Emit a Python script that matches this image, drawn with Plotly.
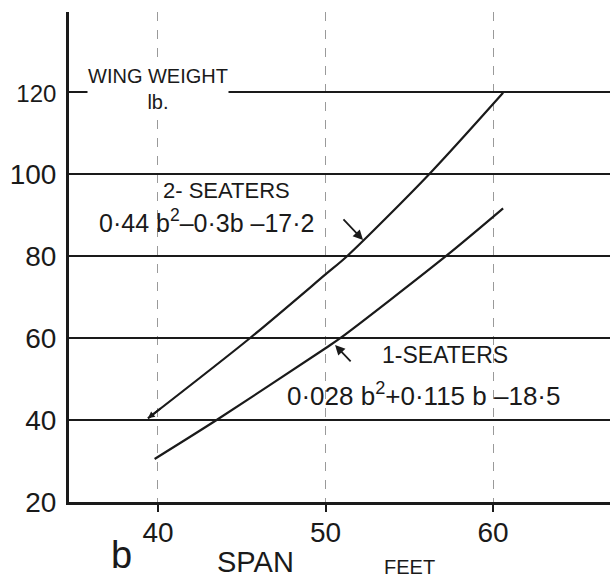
import plotly.graph_objects as go

# ---- data ----
two_seat_span = [39.4, 45.5, 50.0, 51.3, 56.2, 60.6]
two_seat_weight = [40.4, 60.0, 75.5, 80.0, 100.0, 119.8]
one_seat_span = [39.8, 43.5, 50.0, 50.9, 57.2, 60.6]
one_seat_weight = [30.5, 40.0, 57.5, 60.0, 80.0, 91.6]

x_ticks = [40, 50, 60]
y_ticks = [20, 40, 60, 80, 100, 120]
y_ticktext = ["20", "40", "60", "80", "100", '<span style="font-size:24px">120</span>']

FONT = "Liberation Sans, Arial, sans-serif"
INK = "#1a1a1a"

fig = go.Figure()
fig.add_trace(go.Scatter(x=two_seat_span, y=two_seat_weight, mode="lines",
                         line=dict(color=INK, width=2.2, shape="spline", smoothing=0.8),
                         showlegend=False, hoverinfo="skip"))
fig.add_trace(go.Scatter(x=one_seat_span, y=one_seat_weight, mode="lines",
                         line=dict(color=INK, width=2.2, shape="spline", smoothing=0.8),
                         showlegend=False, hoverinfo="skip"))

ann = []
def txt(x, y, s, size, xanchor="center", yref="y", **kw):
    d = dict(x=x, y=y, xref="x", yref=yref, text=s, showarrow=False,
             xanchor=xanchor, yanchor="middle",
             font=dict(family=FONT, size=size, color=INK))
    d.update(kw)
    ann.append(d)

txt(40.0, 120.7, "WING WEIGHT<br>lb.", 20, bgcolor="white", borderpad=0)
txt(44.12, 95.85, "2- SEATERS", 22)
txt(36.36, 88.5, "0·44 b<sup>2</sup>–0·3b –17·2", 25, xanchor="left")
txt(53.25, 55.85, "1-SEATERS", 23, xanchor="left")
txt(47.58, 46.3, "0·028 b<sup>2</sup>+0·115 b –18·5", 26, xanchor="left")
txt(37.8, -0.108, "b", 38, yref="paper")
txt(45.85, -0.1224, "SPAN", 29, yref="paper")
txt(54.99, -0.1327, "FEET", 20, yref="paper")

def arrow(x, y, ax, ay, size=1.1):
    ann.append(dict(x=x, y=y, xref="x", yref="y", ax=ax, ay=ay, text="",
                    showarrow=True, arrowhead=2, arrowsize=size, arrowwidth=1.8,
                    arrowcolor=INK))

arrow(52.24, 83.9, -21, -22)
arrow(50.57, 58.3, 17, 18)
arrow(39.4, 40.4, 14, -11, size=0.75)

fig.update_layout(
    width=614, height=578,
    margin=dict(l=69, r=4, t=12, b=76),
    paper_bgcolor="white", plot_bgcolor="white",
    annotations=ann,
    xaxis=dict(range=[34.69, 66.98], tickvals=x_ticks, ticks="outside", ticklen=7,
               tickwidth=1.5, tickcolor=INK, ticklabelstandoff=-4,
               showline=True, linewidth=3, linecolor=INK,
               showgrid=True, gridcolor="#9a9a9a", gridwidth=1, griddash="dash",
               zeroline=False, tickfont=dict(family=FONT, size=28, color=INK)),
    yaxis=dict(range=[20, 139.5], tickvals=y_ticks, ticktext=y_ticktext, ticks="",
               ticklabelstandoff=4,
               showline=True, linewidth=3, linecolor=INK,
               showgrid=True, gridcolor=INK, gridwidth=1.6,
               zeroline=False, tickfont=dict(family=FONT, size=28, color=INK)),
)

fig.write_html("out.html")
